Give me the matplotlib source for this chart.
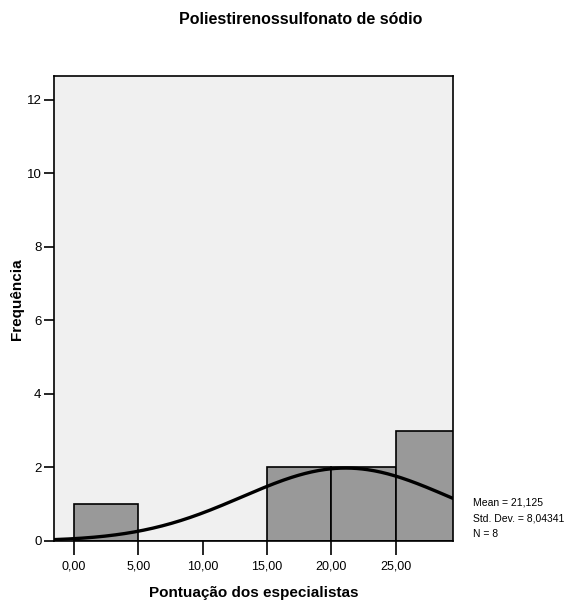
import numpy as np
import matplotlib
matplotlib.use('Agg')
import matplotlib.pyplot as plt
from matplotlib import font_manager

# histogram data
bin_edges = [0, 5, 10, 15, 20, 25, 30]
counts = [1, 0, 0, 2, 2, 3]
xticks = [0, 5, 10, 15, 20, 25]
yticks = [0, 2, 4, 6, 8, 10, 12]
mean = 21.125
std = 8.04341
n = 8

names = set(f.name for f in font_manager.fontManager.ttflist)
fam = 'Liberation Sans Narrow' if 'Liberation Sans Narrow' in names else 'Liberation Sans'
plt.rcParams['font.family'] = [fam, 'DejaVu Sans']

fig = plt.figure(figsize=(5.68, 6.05), dpi=100)
ax = fig.add_axes([0.0951, 0.1058, 0.7025, 0.7686])
ax.set_facecolor('#f0f0f0')

widths = np.diff(bin_edges)
ax.bar(bin_edges[:-1], counts, width=widths, align='edge', color='#999999',
       edgecolor='black', linewidth=1.2, zorder=2)

# fitted normal curve
xlim = (-1.55, 29.47)
xs = np.linspace(xlim[0], xlim[1], 300)
bw = widths[0]
ys = n * bw / (std * np.sqrt(2 * np.pi)) * np.exp(-0.5 * ((xs - mean) / std) ** 2)
ax.plot(xs, ys, color='black', linewidth=2.4, zorder=3)

ax.set_xlim(*xlim)
ax.set_ylim(0, 12.65)
ax.set_xticks(xticks)
ax.set_xticklabels([('%.2f' % v).replace('.', ',') for v in xticks], fontsize=9)
ax.set_yticks(yticks)
ax.set_yticklabels([str(v) for v in yticks], fontsize=9.5)
ax.tick_params(axis='x', length=10, width=1.2, pad=4)
ax.tick_params(axis='y', length=7, width=1.2, pad=2)
for s in ax.spines.values():
    s.set_linewidth(1.2)

ax.set_xlabel('Pontuação dos especialistas', fontsize=11, fontweight='bold', labelpad=10)
fig.text(0.03, 0.505, 'Frequência', rotation=90, ha='center', va='center',
         fontsize=11, fontweight='bold', family='Liberation Sans')

fig.text(0.53, 0.967, 'Poliestirenossulfonato de sódio', ha='center', va='center',
         fontsize=11.5, fontweight='bold')

stats = 'Mean = 21,125\nStd. Dev. = 8,04341\nN = 8'
fig.text(0.832, 0.177, stats, ha='left', va='top', fontsize=7.5, linespacing=1.7)

fig.savefig('out.png', dpi=100)
